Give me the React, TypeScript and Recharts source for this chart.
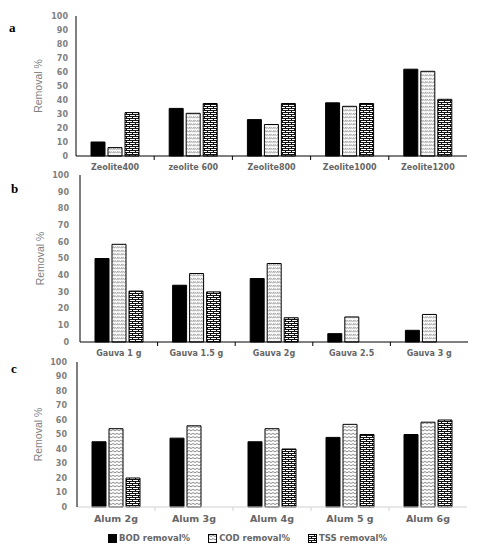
import React from 'react';
import { BarChart, Bar, XAxis, YAxis, Legend } from 'recharts';

// panel a - zeolite
const zeoliteLabels = ['Zeolite400', 'zeolite 600', 'Zeolite800', 'Zeolite1000', 'Zeolite1200'];
const zeoliteBod = [10, 34, 26, 38, 62];
const zeoliteCod = [6, 30.5, 22.5, 35.5, 60.5];
const zeoliteTss = [31, 37.5, 37.5, 37.5, 40.5];

// panel b - gauva
const gauvaLabels = ['Gauva 1 g', 'Gauva 1.5 g', 'Gauva 2g', 'Gauva 2.5', 'Gauva 3 g'];
const gauvaBod = [50, 34, 38, 5, 7];
const gauvaCod = [58.5, 41, 47, 15, 16.5];
const gauvaTss = [30.5, 30, 14.5, 0, 0];

// panel c - alum
const alumLabels = ['Alum 2g', 'Alum 3g', 'Alum 4g', 'Alum 5 g', 'Alum 6g'];
const alumBod = [45, 47.5, 45, 48, 50];
const alumCod = [54, 56, 54, 57, 58.5];
const alumTss = [20, 0, 40, 50, 60];

const yTicks = [0, 10, 20, 30, 40, 50, 60, 70, 80, 90, 100];
const seriesNames = ['BOD removal%', 'COD removal%', 'TSS removal%'];
const yLabel = 'Removal %';

const tickFont = '"DejaVu Sans", Verdana, sans-serif';
const narrowFont = '"Liberation Sans Narrow", "Arial Narrow", sans-serif';

const buildRows = (labels: string[], bod: number[], cod: number[], tss: number[]) =>
  labels.map((name, i) => ({ name, bod: bod[i], cod: cod[i], tss: tss[i] }));

const Patterns = ({ prefix, wavy }: { prefix: string; wavy?: boolean }) => (
  <defs>
    <pattern id={`${prefix}-cod`} patternUnits="userSpaceOnUse" width={4} height={3.5}>
      <rect width={4} height={3.5} fill="#fff" />
      {wavy ? (
        <path d="M0,1.8 Q1,0.6 2,1.8 T4,1.8" fill="none" stroke="#222" strokeWidth={0.6} />
      ) : (
        <path d="M0.3,2.8 L2.3,0.8 M2.3,2.8 L4,1.1" fill="none" stroke="#222" strokeWidth={0.6} />
      )}
    </pattern>
    <pattern id={`${prefix}-tss`} patternUnits="userSpaceOnUse" width={6} height={4}>
      <rect width={6} height={4} fill="#fff" />
      <path d="M0,0.5 H6 M0,2.5 H6 M0.5,0.5 V2.5 M3.5,2.5 V4.5" fill="none" stroke="#111" strokeWidth={1} />
    </pattern>
  </defs>
);

const CategoryTick = (props: any) => {
  const { x, y, payload, index, fontSize, lineColor } = props;
  const off = payload && payload.offset ? payload.offset : 0;
  return (
    <g>
      <text
        x={x}
        y={y}
        dy="0.71em"
        textAnchor="middle"
        fill="#666"
        fontSize={fontSize}
        fontWeight="bold"
        fontFamily={tickFont}
      >
        {payload.value}
      </text>
      {index < 4 && (
        <line x1={x + off} x2={x + off} y1={y - 8} y2={y - 4} stroke={lineColor} strokeWidth={1} />
      )}
    </g>
  );
};

const LegendContent = (props: any) => {
  const items = props.payload || [];
  return (
    <div
      style={{
        display: 'flex',
        justifyContent: 'center',
        alignItems: 'center',
        height: 18,
        paddingLeft: 28,
        fontFamily: tickFont,
        fontSize: 8.5,
        fontWeight: 'bold',
        color: '#666',
      }}
    >
      {items.map((entry: any, i: number) => (
        <div key={entry.value} style={{ display: 'flex', alignItems: 'center', marginRight: i < items.length - 1 ? 18 : 0 }}>
          <svg width={9} height={9} style={{ marginRight: 2 }}>
            <rect x={0.5} y={0.5} width={8} height={8} fill={entry.color} stroke="#000" />
          </svg>
          <span>{entry.value}</span>
        </div>
      ))}
    </div>
  );
};

interface PanelProps {
  prefix: string;
  rows: any[];
  height: number;
  margin: { top: number; right: number; left: number; bottom: number };
  yWidth: number;
  yTickMargin: number;
  xFont: number;
  xHeight: number;
  xAxisColor: string;
  wavy?: boolean;
  legend?: boolean;
}

const Panel = ({ prefix, rows, height, margin, yWidth, yTickMargin, xFont, xHeight, xAxisColor, wavy, legend }: PanelProps) => (
  <BarChart width={478} height={height} data={rows} margin={margin} barSize={14} barGap={3}>
    <Patterns prefix={prefix} wavy={wavy} />
    <XAxis
      dataKey="name"
      height={xHeight}
      axisLine={{ stroke: xAxisColor }}
      tickLine={false}
      tickSize={4}
      tickMargin={4}
      interval={0}
      tick={<CategoryTick fontSize={xFont} lineColor={xAxisColor} />}
    />
    <XAxis xAxisId="top" dataKey="name" orientation="top" height={0} tick={false} tickLine={false} axisLine={{ stroke: '#000' }} />
    <YAxis
      domain={[0, 100]}
      ticks={yTicks}
      width={yWidth}
      interval={0}
      tickLine={false}
      tickMargin={yTickMargin}
      tickSize={0}
      axisLine={{ stroke: '#000' }}
      tick={{ fill: '#808080', fontSize: 8, fontWeight: 'bold', fontFamily: tickFont }}
      label={{
        value: yLabel,
        angle: -90,
        position: 'center',
        fill: '#808080',
        fontSize: 10.5,
        fontFamily: narrowFont,
      }}
    />
    <YAxis yAxisId="right" orientation="right" type="number" domain={[0, 100]} width={0} tick={false} tickLine={false} axisLine={{ stroke: '#000' }} />
    {legend && <Legend verticalAlign="bottom" height={18} content={<LegendContent />} />}
    <Bar dataKey="bod" name={seriesNames[0]} fill="#000" stroke="#000" strokeWidth={1} isAnimationActive={false} />
    <Bar dataKey="cod" name={seriesNames[1]} fill={`url(#${prefix}-cod)`} stroke="#000" strokeWidth={1} isAnimationActive={false} />
    <Bar dataKey="tss" name={seriesNames[2]} fill={`url(#${prefix}-tss)`} stroke="#000" strokeWidth={1} isAnimationActive={false} />
  </BarChart>
);

const letterStyle: React.CSSProperties = {
  position: 'absolute',
  fontFamily: '"Liberation Serif", "DejaVu Serif", serif',
  fontWeight: 'bold',
  fontSize: 13,
  lineHeight: '13px',
};

export default function App() {
  return (
    <div style={{ position: 'absolute', left: 0, top: 0, width: 478, height: 550, background: '#fff', overflow: 'hidden' }}>
      <div style={{ position: 'absolute', left: 0, top: 0 }}>
        <Panel
          prefix="pa"
          rows={buildRows(zeoliteLabels, zeoliteBod, zeoliteCod, zeoliteTss)}
          height={180}
          margin={{ top: 16, right: 11, left: 0, bottom: 4 }}
          yWidth={76}
          yTickMargin={8}
          xFont={8}
          xHeight={20}
          xAxisColor="#000"
        />
      </div>
      <div style={{ position: 'absolute', left: 0, top: 165 }}>
        <Panel
          prefix="pb"
          rows={buildRows(gauvaLabels, gauvaBod, gauvaCod, gauvaTss)}
          height={200}
          margin={{ top: 10, right: 10, left: 0, bottom: 3 }}
          yWidth={80}
          yTickMargin={11}
          xFont={8}
          xHeight={20}
          xAxisColor="#000"
        />
      </div>
      <div style={{ position: 'absolute', left: 0, top: 355 }}>
        <Panel
          prefix="pc"
          rows={buildRows(alumLabels, alumBod, alumCod, alumTss)}
          height={192}
          margin={{ top: 7, right: 11, left: 0, bottom: 0 }}
          yWidth={77}
          yTickMargin={10}
          xFont={9.5}
          xHeight={22}
          xAxisColor="#d0d0d0"
          wavy
          legend
        />
      </div>
      <div style={{ ...letterStyle, left: 9, top: 21 }}>a</div>
      <div style={{ ...letterStyle, left: 11, top: 182 }}>b</div>
      <div style={{ ...letterStyle, left: 11, top: 362 }}>c</div>
    </div>
  );
}
